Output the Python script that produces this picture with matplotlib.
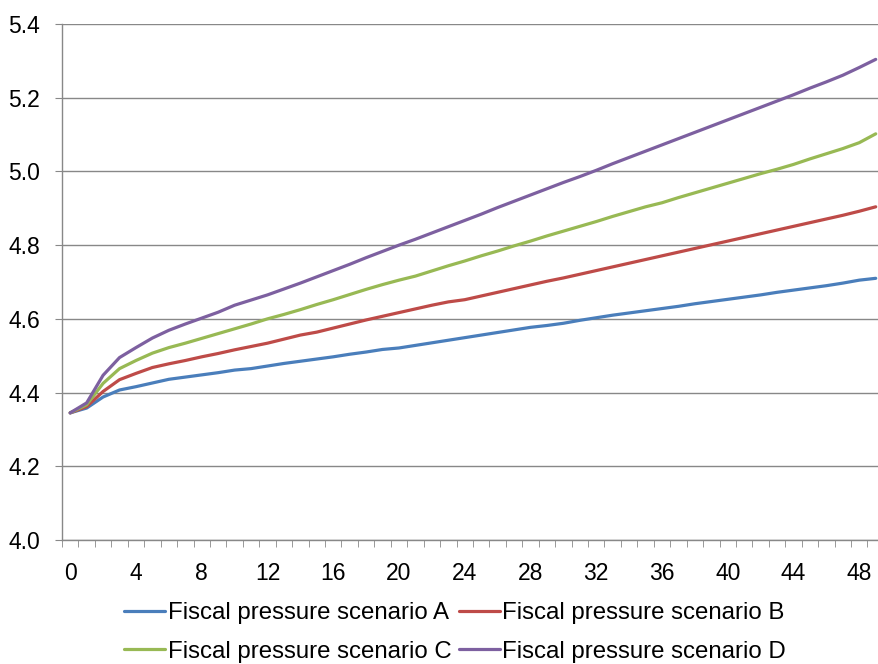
import numpy as np
import matplotlib
matplotlib.use('Agg')
import matplotlib.pyplot as plt
from matplotlib.ticker import FixedLocator

plt.rcParams['font.family'] = ['Liberation Sans', 'DejaVu Sans']
plt.rcParams['font.size'] = 16

years = np.arange(50)

scenario_a = [4.345, 4.358, 4.388, 4.407, 4.416, 4.426, 4.436, 4.442, 4.448, 4.454,
              4.461, 4.465, 4.472, 4.479, 4.485, 4.491, 4.497, 4.504, 4.510, 4.517,
              4.521, 4.528, 4.535, 4.542, 4.549, 4.556, 4.563, 4.570, 4.577, 4.582,
              4.588, 4.596, 4.603, 4.610, 4.616, 4.622, 4.628, 4.634, 4.641, 4.647,
              4.653, 4.659, 4.665, 4.672, 4.678, 4.684, 4.690, 4.697, 4.705, 4.710]
scenario_b = [4.345, 4.362, 4.403, 4.435, 4.452, 4.468, 4.478, 4.487, 4.497, 4.506,
              4.516, 4.525, 4.534, 4.545, 4.556, 4.564, 4.575, 4.586, 4.597, 4.607,
              4.617, 4.627, 4.637, 4.646, 4.652, 4.662, 4.672, 4.682, 4.692, 4.702,
              4.711, 4.721, 4.731, 4.741, 4.751, 4.761, 4.771, 4.781, 4.791, 4.801,
              4.811, 4.821, 4.831, 4.841, 4.851, 4.861, 4.871, 4.881, 4.892, 4.904]
scenario_c = [4.345, 4.367, 4.425, 4.465, 4.487, 4.507, 4.522, 4.534, 4.547, 4.560,
              4.573, 4.586, 4.600, 4.612, 4.625, 4.639, 4.652, 4.666, 4.680, 4.693,
              4.705, 4.716, 4.730, 4.744, 4.757, 4.771, 4.784, 4.798, 4.811, 4.825,
              4.838, 4.851, 4.864, 4.878, 4.891, 4.904, 4.915, 4.929, 4.942, 4.955,
              4.968, 4.981, 4.994, 5.006, 5.019, 5.034, 5.048, 5.062, 5.078, 5.102]
scenario_d = [4.345, 4.372, 4.447, 4.495, 4.522, 4.548, 4.569, 4.586, 4.602, 4.618,
              4.637, 4.651, 4.665, 4.681, 4.697, 4.714, 4.731, 4.748, 4.766, 4.783,
              4.800, 4.816, 4.833, 4.850, 4.867, 4.884, 4.902, 4.919, 4.936, 4.953,
              4.970, 4.986, 5.003, 5.021, 5.038, 5.055, 5.072, 5.089, 5.106, 5.123,
              5.140, 5.157, 5.174, 5.191, 5.208, 5.226, 5.243, 5.261, 5.282, 5.304]

labels = ['Fiscal pressure scenario A', 'Fiscal pressure scenario B',
          'Fiscal pressure scenario C', 'Fiscal pressure scenario D']
colors = ['#4A7EBB', '#BE4B48', '#98B954', '#7D60A0']

fig = plt.figure(figsize=(8.79, 6.64), dpi=100)
ax = fig.add_axes([62/879, 124/664, 817/879, 516/664])

lines = []
for vals, lab, col in zip([scenario_a, scenario_b, scenario_c, scenario_d], labels, colors):
    ln, = ax.plot(years, vals, color=col, lw=2.3, label=lab, solid_capstyle='round')
    lines.append(ln)

ax.set_xlim(-0.5, 49.2)
ax.set_ylim(4.0, 5.4)
yt = np.arange(4.0, 5.41, 0.2)
ax.set_yticks(yt)
ax.set_yticklabels([f'{v:.1f}' for v in yt])
ax.set_xticks(np.arange(0, 49, 4))
ax.xaxis.set_minor_locator(FixedLocator(np.arange(-0.5, 49.6, 1)))
ax.tick_params(axis='x', which='major', length=0, pad=16, labelsize=16.5)
ax.tick_params(axis='x', which='minor', length=5, color='#888888', direction='out')
ax.tick_params(axis='y', length=5, color='#888888', pad=11, labelsize=16.5)

ax.grid(axis='y', color='#888888', lw=1)
ax.set_axisbelow(True)
for s in ['top', 'right']:
    ax.spines[s].set_visible(False)
for s in ['left', 'bottom']:
    ax.spines[s].set_color('#888888')
    ax.spines[s].set_linewidth(1)

# two rows, filled row by row: A B / C D
order = [0, 2, 1, 3]
fig.legend([lines[i] for i in order], [labels[i] for i in order],
           loc='center', bbox_to_anchor=(0.518, 0.0474), ncol=2, frameon=False,
           fontsize=17.3, handlelength=1.7, handletextpad=0.12, columnspacing=0.29,
           labelspacing=0.69, borderpad=0)

fig.savefig('out.png', dpi=100)
